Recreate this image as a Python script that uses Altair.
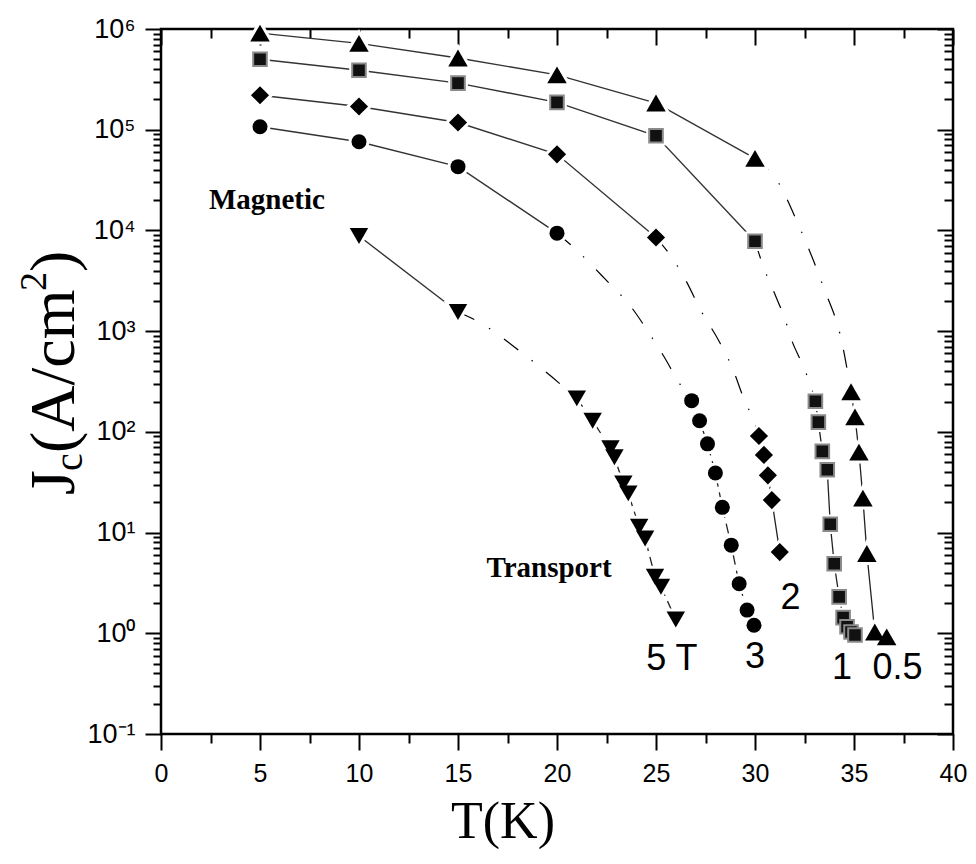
import altair as alt
import pandas as pd

# ---------------- data ----------------
series_keys = ["0.5", "1", "2", "3", "5"]

# Magnetic measurements (solid lines)
mag_T = {
    "0.5": [5, 10, 15, 20, 25, 30],
    "1":   [5, 10, 15, 20, 25, 30],
    "2":   [5, 10, 15, 20, 25],
    "3":   [5, 10, 15, 20],
    "5":   [10, 15],
}
mag_J = {
    "0.5": [9.1e5, 7.2e5, 5.15e5, 3.5e5, 1.84e5, 5.2e4],
    "1":   [5.0e5, 3.9e5, 2.9e5, 1.87e5, 8.7e4, 7.8e3],
    "2":   [2.2e5, 1.7e5, 1.18e5, 5.7e4, 8.5e3],
    "3":   [1.07e5, 7.6e4, 4.3e4, 9.4e3],
    "5":   [8.8e3, 1.55e3],
}

# Transport measurements
tr_T = {
    "0.5": [34.85, 35.05, 35.25, 35.45, 35.65, 36.05, 36.65],
    "1":   [33.05, 33.2, 33.4, 33.65, 33.8, 34.0, 34.25, 34.45, 34.65, 34.85, 35.05],
    "2":   [30.2, 30.45, 30.65, 30.85, 31.25],
    "3":   [26.8, 27.2, 27.6, 28.0, 28.35, 28.8, 29.2, 29.6, 29.95],
    "5":   [21.0, 21.8, 22.7, 22.9, 23.35, 23.6, 24.15, 24.45, 24.95, 25.25, 26.0],
}
tr_J = {
    "0.5": [250, 141, 63, 22, 6.2, 1.03, 0.92],
    "1":   [201, 125, 64, 42, 12.1, 4.9, 2.3, 1.43, 1.16, 1.03, 0.96],
    "2":   [91, 59, 37, 21, 6.4],
    "3":   [204, 129, 76, 39, 17.8, 7.5, 3.1, 1.7, 1.2],
    "5":   [215, 129, 68.7, 55.9, 30.8, 24.5, 11.4, 8.75, 3.64, 2.9, 1.37],
}

# Dashed guide curves joining magnetic and transport data
guide_T = {
    "0.5": [30, 31.0, 32.2, 33.45, 34.4, 34.85],
    "1":   [30, 30.4, 31.1, 31.5, 31.85, 32.45, 32.8, 33.05],
    "2":   [25, 25.55, 26.45, 27.3, 28.2, 28.9, 29.4, 29.9, 30.2],
    "3":   [20, 20.8, 22.4, 23.8, 24.6, 25.4, 26.2, 26.8],
    "5":   [15, 16.1, 18.05, 19.75, 21.0],
}
guide_J = {
    "0.5": [5.2e4, 3.4e4, 1.13e4, 2760, 760, 250],
    "1":   [7800, 4500, 2100, 1340, 816, 443, 292, 201],
    "2":   [8500, 6300, 3340, 1560, 785, 410, 223, 133, 91],
    "3":   [9400, 6900, 3340, 1680, 990, 560, 300, 204],
    "5":   [1550, 1220, 650, 350, 215],
}

# Field labels next to the curves
label_text = ["5 T", "3", "2", "1", "0.5"]
label_T = [25.8, 30.0, 31.8, 34.4, 37.2]
label_J = [0.56, 0.58, 2.24, 0.45, 0.45]

# Region annotations
note_text = ["Magnetic", "Transport"]
note_T = [5.35, 19.6]
note_J = [1.63e4, 3.6]

# Axis ticks
x_major = [0, 5, 10, 15, 20, 25, 30, 35, 40]
x_minor = [2.5, 7.5, 12.5, 17.5, 22.5, 27.5, 32.5, 37.5]
y_major = [1e-1, 1e0, 1e1, 1e2, 1e3, 1e4, 1e5, 1e6]
y_minor = [m * 10.0 ** e for e in range(-1, 6) for m in range(2, 10)]

# ---------------- styling ----------------
shape_of = {"0.5": "triangle-up", "1": "square", "2": "diamond", "3": "circle", "5": "triangle-down"}
size_of = {"0.5": 380, "1": 185, "2": 330, "3": 225, "5": 340}
SANS = "Liberation Sans"
SERIF = "Liberation Serif"


def frame(Ts, Js, key):
    return pd.DataFrame({"T": Ts, "J": Js, "s": key})


mag_df = pd.concat([frame(mag_T[k], mag_J[k], k) for k in series_keys], ignore_index=True)
tr_df = pd.concat([frame(tr_T[k], tr_J[k], k) for k in series_keys], ignore_index=True)
guide_df = pd.concat([frame(guide_T[k], guide_J[k], k) for k in series_keys], ignore_index=True)
all_df = pd.concat([mag_df, tr_df], ignore_index=True)

xs = alt.Scale(domain=[0, 40], nice=False, zero=False)
ys = alt.Scale(type="log", domain=[0.1, 1e6], nice=False)

X = alt.X("T:Q", scale=xs, axis=None)
Y = alt.Y("J:Q", scale=ys, axis=None)

layers = []

# axis layers (invisible points carrying the axes)
sup_expr = "'10' + ['\u207b\u00b9','\u2070','\u00b9','\u00b2','\u00b3','\u2074','\u2075','\u2076'][round(log(datum.value)/LN10)+1]"
common = dict(domain=False, grid=False, title=None, tickColor="black", tickWidth=2)
axis_specs = [
    (alt.Axis(orient="bottom", values=x_major, tickSize=16, labelFont=SANS, labelFontSize=25,
              labelColor="black", labelPadding=11, labelOverlap=False, labelFlush=False, **common),
     alt.Axis(orient="left", values=y_major, tickSize=16, labelFont=SANS, labelFontSize=27,
              labelColor="black", labelPadding=10, labelExpr=sup_expr, labelOverlap=False,
              labelFlush=False, **common)),
    (alt.Axis(orient="bottom", values=x_minor, tickSize=9, labels=False, **common),
     alt.Axis(orient="left", values=y_minor, tickSize=8, labels=False, **common)),
    (alt.Axis(orient="top", values=x_major, tickSize=16, offset=-16, labels=False, **common),
     alt.Axis(orient="right", values=y_major, tickSize=16, offset=-16, labels=False, **common)),
    (alt.Axis(orient="top", values=x_minor, tickSize=9, offset=-9, labels=False, **common),
     alt.Axis(orient="right", values=y_minor, tickSize=9, offset=-9, labels=False, **common)),
]
for xa, ya in axis_specs:
    layers.append(
        alt.Chart(all_df).mark_point(opacity=0).encode(
            x=alt.X("T:Q", scale=xs, axis=xa), y=alt.Y("J:Q", scale=ys, axis=ya)
        )
    )

# guide curves
layers.append(
    alt.Chart(guide_df).mark_line(color="black", strokeWidth=1.2, strokeDash=[18, 17, 1.5, 17],
                                  interpolate="monotone").encode(x=X, y=Y, detail="s:N")
)
# magnetic lines
layers.append(
    alt.Chart(mag_df).mark_line(color="#333333", strokeWidth=1.4).encode(x=X, y=Y, detail="s:N")
)
# transport lines
solid_keys = ["0.5", "1", "2"]
dash_keys = ["3", "5"]
layers.append(
    alt.Chart(tr_df[tr_df["s"].isin(solid_keys)]).mark_line(color="#222222", strokeWidth=1.3)
    .encode(x=X, y=Y, detail="s:N")
)
layers.append(
    alt.Chart(tr_df[tr_df["s"].isin(dash_keys)]).mark_line(color="#222222", strokeWidth=1.3,
                                                            strokeDash=[10, 6])
    .encode(x=X, y=Y, detail="s:N")
)

# white halos behind markers (gaps in lines, Origin style)
for k in series_keys:
    d = all_df[all_df["s"] == k]
    layers.append(
        alt.Chart(d).mark_point(shape=shape_of[k], size=size_of[k], filled=True, fill="white",
                                stroke="white", strokeWidth=6, opacity=1)
        .encode(x=X, y=Y)
    )
# markers
for k in series_keys:
    d = all_df[all_df["s"] == k]
    if k == "1":
        mk = alt.Chart(d).mark_point(shape=shape_of[k], size=size_of[k], filled=True, fill="#111111",
                                     stroke="#8a8a8a", strokeWidth=2, opacity=1)
    else:
        mk = alt.Chart(d).mark_point(shape=shape_of[k], size=size_of[k], filled=True, fill="black",
                                     strokeWidth=0, opacity=1)
    layers.append(mk.encode(x=X, y=Y))

# field labels
lab_df = pd.DataFrame({"T": label_T, "J": label_J, "t": label_text})
layers.append(
    alt.Chart(lab_df).mark_text(font=SANS, fontSize=36, color="black", align="center",
                                baseline="middle").encode(x=X, y=Y, text="t:N")
)
note_df = pd.DataFrame({"T": note_T, "J": note_J, "t": note_text})
layers.append(
    alt.Chart(note_df).mark_text(font=SERIF, fontSize=29, fontWeight="bold", color="black",
                                 align="center", baseline="alphabetic").encode(x=X, y=Y, text="t:N")
)

# x title
layers.append(
    alt.Chart(pd.DataFrame({"t": ["T(K)"]})).mark_text(font=SERIF, fontSize=52, color="black",
                                                        align="center", baseline="alphabetic")
    .encode(text="t:N", x=alt.value(342), y=alt.value(809))
)

# y title pieces: J, subscript c, (A/cm, superscript 2, )
ytitle_text = ["J", "c", "(A/cm", "2", ")"]
ytitle_size = [64, 40, 64, 38, 64]
ytitle_x = [-87, -79, -87, -115, -87]
ytitle_y = [466, 442, 424, 262, 243]
for t, fs, px, py in zip(ytitle_text, ytitle_size, ytitle_x, ytitle_y):
    layers.append(
        alt.Chart(pd.DataFrame({"t": [t]})).mark_text(font=SERIF, fontSize=fs, color="black",
                                                       align="left", baseline="alphabetic", angle=270)
        .encode(text="t:N", x=alt.value(px), y=alt.value(py))
    )

chart = (
    alt.layer(*layers)
    .resolve_axis(x="independent", y="independent")
    .properties(width=792, height=705,
                padding={"left": 153, "top": 21, "right": 15, "bottom": 116},
                autosize=alt.AutoSizeParams(type="none"))
    .configure_view(stroke="black", strokeWidth=2.5)
)

chart.save("out.html", embed_options={"renderer": "svg", "actions": False})
